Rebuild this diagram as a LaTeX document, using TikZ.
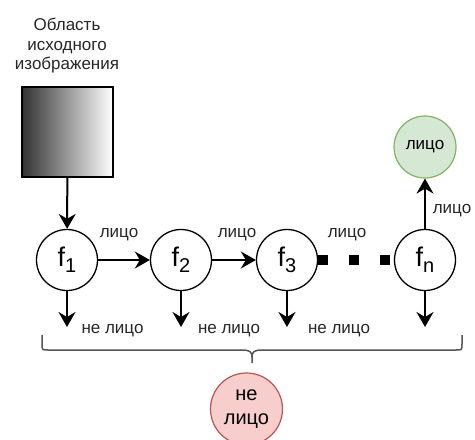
\documentclass[tikz,border=0pt]{standalone}
\usepackage{fontspec}
\setmainfont{Liberation Sans}
\usetikzlibrary{arrows.meta}
\definecolor{yesfill}{HTML}{D5E8D4}
\definecolor{yesline}{HTML}{82B366}
\definecolor{nofill}{HTML}{F8CECC}
\definecolor{noline}{HTML}{B85450}
\definecolor{bracecol}{HTML}{555555}
\newcommand{\fsub}[2]{#1\raisebox{-6pt}{\fontsize{20}{20}\selectfont #2}}
\begin{document}
\begin{tikzpicture}[x=1pt,y=-1pt,
  lbl/.style={font=\fontsize{17}{19.5}\selectfont, inner sep=0pt, text=black!85},
  fnode/.style={circle, draw, line width=1.3pt, minimum size=61pt, inner sep=0pt,
    fill=white, font=\fontsize{27}{27}\selectfont},
  flow/.style={line width=2pt, -{Stealth[length=15pt,width=17pt,inset=5pt]}},
  dotline/.style={line width=10pt, dash pattern=on 10pt off 21pt},
]
\useasboundingbox (0,0) rectangle (475,440);

% source region
\node[lbl, align=center] (title) at (67,46) {Область\\исходного\\изображения};
\node[draw, line width=1.2pt, minimum width=91pt, minimum height=90pt,
  left color=black!80, right color=white] (img) at (67.5,132) {};

% cascade of classifiers
\node[fnode] (f1) at (67,260) {\fsub{f}{1}};
\node[fnode] (f2) at (181,260) {\fsub{f}{2}};
\node[fnode] (f3) at (287,260) {\fsub{f}{3}};
\node[fnode] (fn) at (425,260) {\fsub{f}{n}};

% outcomes
\node[circle, draw=yesline, fill=yesfill, line width=1.2pt, minimum size=62pt,
  inner sep=0pt, font=\fontsize{17}{19.5}\selectfont] (yes) at (425,147) {лицо};
\node[circle, draw=noline, fill=nofill, line width=1.2pt, minimum size=72pt,
  inner sep=0pt, align=center, font=\fontsize{20}{24}\selectfont] (no) at (246.5,409) {не\\лицо};

% free ends of the rejection arrows
\coordinate (d1) at (67,327);
\coordinate (d2) at (181,327);
\coordinate (d3) at (287,327);
\coordinate (dn) at (425,327);

\draw[flow] (img) -- (f1);
\draw[flow] (f1) -- (f2);
\draw[flow] (f2) -- (f3);
\draw[dotline] (f3) -- (fn);
\draw[flow] (fn) -- (yes);
\draw[flow] (f1) -- (d1);
\draw[flow] (f2) -- (d2);
\draw[flow] (f3) -- (d3);
\draw[flow] (fn) -- (dn);

% edge labels
\node[lbl, anchor=base] (l1) at (119,237) {лицо};
\node[lbl, anchor=base] (l2) at (237,237) {лицо};
\node[lbl, anchor=base] (l3) at (347,237) {лицо};
\node[lbl, anchor=base] (l4) at (452,213) {лицо};
\node[lbl, anchor=base] (n1) at (112.5,333) {не лицо};
\node[lbl, anchor=base] (n2) at (229,333) {не лицо};
\node[lbl, anchor=base] (n3) at (339,333) {не лицо};

% curly brace gathering all rejections
\draw[bracecol, line width=1.5pt]
  (42,335) -- (42,344) .. controls (42,350) .. (48,350) -- (242,350)
  .. controls (250,350) and (252,352) .. (252,357) -- (252,363);
\draw[bracecol, line width=1.5pt]
  (462,335) -- (462,344) .. controls (462,350) .. (456,350) -- (262,350)
  .. controls (254,350) and (252,352) .. (252,357);
\end{tikzpicture}
\end{document}
